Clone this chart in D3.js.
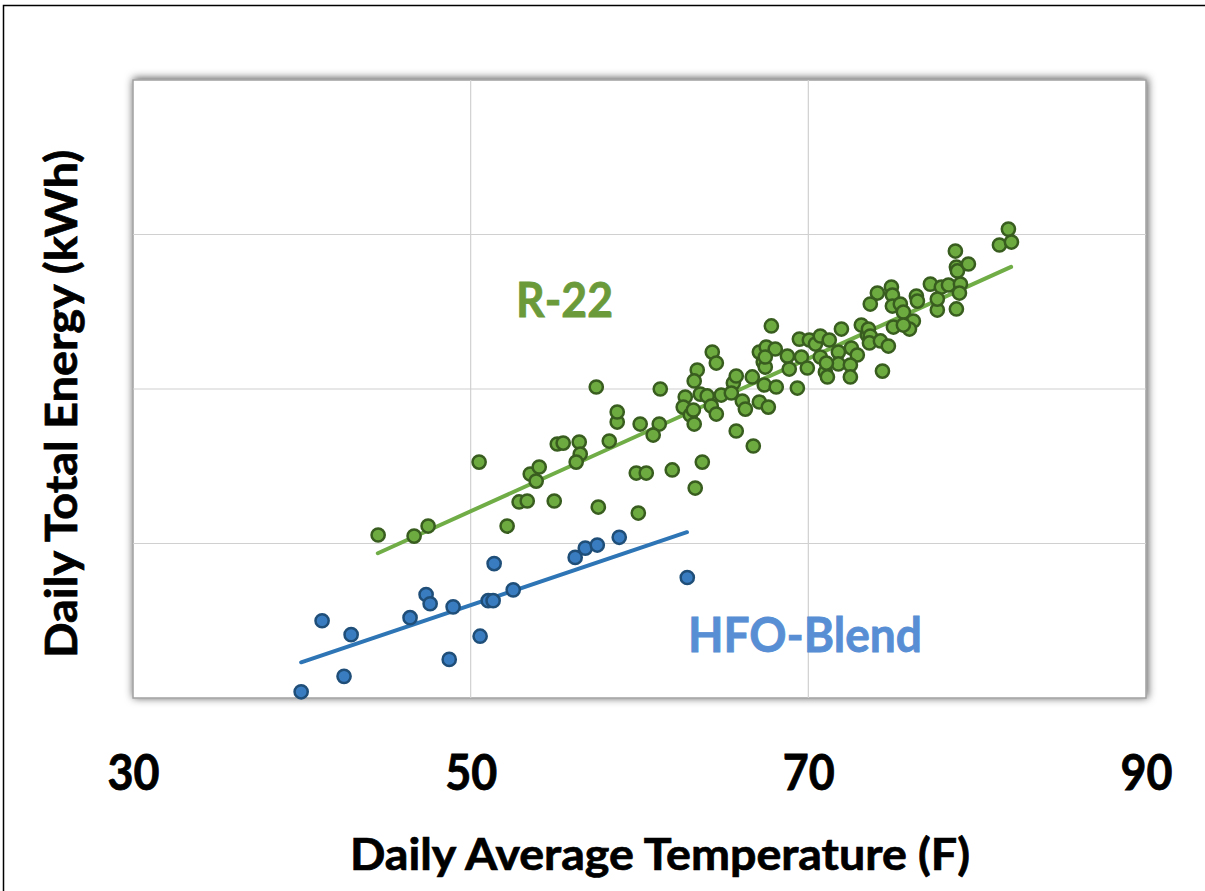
<!DOCTYPE html>
<html><head><meta charset="utf-8">
<script src="https://cdn.jsdelivr.net/npm/d3@7"></script>
<style>html,body{margin:0;padding:0;background:#fff;}svg{display:block;}</style>
</head><body>
<script>
// ---- data ----
const xTicks = [30, 50, 70, 90];
const yGrid = [1, 2, 3];
const hfoTemp = [39.96,41.20,42.50,42.92,46.41,47.36,47.60,48.73,48.96,50.56,51.04,51.33,51.39,52.52,56.19,56.79,57.50,58.80,62.83];
const hfoEnergy = [0.04,0.50,0.14,0.41,0.52,0.67,0.61,0.25,0.59,0.40,0.63,0.63,0.87,0.70,0.91,0.97,0.99,1.04,0.78];
const r22Temp = [44.52,46.65,47.48,50.50,52.16,52.87,53.35,53.53,54.06,53.88,54.95,55.13,55.48,56.43,56.49,56.25,57.56,58.21,58.68,58.68,
  59.93,59.81,60.40,60.04,61.17,60.81,61.94,63.72,63.30,57.44,61.23,63.42,63.24,64.31,64.55,62.71,62.59,63.60,64.01,63.01,
  63.24,64.25,64.55,64.84,65.56,65.73,65.44,65.73,66.09,66.27,66.68,66.74,67.10,67.63,67.10,67.51,68.04,67.33,67.45,67.39,
  68.10,67.81,68.76,68.87,69.47,69.59,69.94,69.35,70.06,70.42,70.71,70.71,71.01,71.13,71.24,71.78,71.78,71.96,72.55,72.90,
  72.49,72.49,73.14,73.50,73.56,73.67,73.62,74.09,73.67,74.27,74.74,74.39,74.92,74.98,74.98,75.04,75.45,75.63,76.22,75.99,
  75.63,76.40,76.46,77.23,77.88,78.30,79.01,78.95,78.77,77.64,77.64,78.71,78.77,78.83,79.48,81.85,81.32,82.03,63.19,71.07,67.45];
const r22Energy = [1.055,1.048,1.113,1.527,1.113,1.269,1.275,1.450,1.495,1.404,1.275,1.644,1.650,1.657,1.579,1.527,1.236,1.663,1.786,1.851,
  1.197,1.456,1.456,1.773,1.773,1.702,1.476,1.527,1.359,2.013,2.000,2.123,2.052,2.239,2.168,1.948,1.883,1.967,1.955,1.832,
  1.773,1.890,1.838,1.961,2.039,2.084,1.974,1.728,1.922,1.870,2.078,1.631,1.916,1.883,2.239,2.272,2.259,2.175,2.142,2.026,
  2.013,2.408,2.213,2.129,2.323,2.207,2.136,2.006,2.317,2.291,2.343,2.207,2.110,2.078,2.317,2.239,2.162,2.388,2.265,2.220,
  2.155,2.078,2.414,2.349,2.388,2.343,2.298,2.621,2.550,2.311,2.278,2.116,2.660,2.608,2.537,2.401,2.550,2.498,2.440,2.388,
  2.414,2.602,2.569,2.679,2.660,2.673,2.679,2.621,2.518,2.511,2.582,2.893,2.789,2.764,2.809,3.035,2.932,2.951,1.864,2.168,2.207];
const r22TrendTemp = [44.50, 82.01];
const r22TrendEnergy = [0.937, 2.790];
const hfoTrendTemp = [39.96, 62.81];
const hfoTrendEnergy = [0.231, 1.073];

// ---- drawing ----
const W = 1205, H = 891;
const svg = d3.select("body").append("svg").attr("width", W).attr("height", H);
const font = "Lato, 'Open Sans', sans-serif";

const x = d3.scaleLinear().domain([30, 90]).range([133, 1146]);
const y = d3.scaleLinear().domain([0, 4]).range([698, 80]);

// outer frame
svg.append("rect").attr("x", 3.5).attr("y", 5.5).attr("width", 1300).attr("height", 1000)
  .attr("fill", "#fff").attr("stroke", "#000").attr("stroke-width", 1.5);

const defs = svg.append("defs");
const f = defs.append("filter").attr("id", "sh").attr("x", "-5%").attr("y", "-5%").attr("width", "110%").attr("height", "110%");
f.append("feDropShadow").attr("dx", 1).attr("dy", -1).attr("stdDeviation", 4)
  .attr("flood-color", "#000").attr("flood-opacity", 0.7);

// plot area
svg.append("rect").attr("x", x(30)).attr("y", y(4)).attr("width", x(90) - x(30)).attr("height", y(0) - y(4))
  .attr("fill", "#fff").attr("stroke", "#a0a0a0").attr("stroke-width", 1.5).attr("filter", "url(#sh)");

// gridlines
svg.append("g").selectAll("line").data(xTicks.filter(d => d > 30 && d < 90)).join("line")
  .attr("x1", d => x(d)).attr("x2", d => x(d)).attr("y1", y(4)).attr("y2", y(0))
  .attr("stroke", "#d0d0d0").attr("stroke-width", 1.2);
svg.append("g").selectAll("line").data(yGrid).join("line")
  .attr("x1", x(30)).attr("x2", x(90)).attr("y1", d => y(d)).attr("y2", d => y(d))
  .attr("stroke", "#d0d0d0").attr("stroke-width", 1.2);

// x axis tick labels via d3 axis
const xAxis = d3.axisBottom(x).tickValues(xTicks).tickSize(0).tickPadding(0).tickFormat(d3.format("d"));
const gx = svg.append("g").attr("transform", "translate(0,755)").call(xAxis);
gx.select(".domain").remove();
gx.selectAll("text").attr("font-family", font).attr("font-weight", 700).attr("font-size", 49)
  .attr("fill", "#000").attr("stroke", "#000").attr("stroke-width", 0.8)
  .attr("dy", "0.71em").attr("textLength", 52).attr("lengthAdjust", "spacingAndGlyphs");

// trendlines
const line = d3.line().x(d => x(d[0])).y(d => y(d[1]));
svg.append("path").datum(d3.zip(r22TrendTemp, r22TrendEnergy)).attr("d", line)
  .attr("fill", "none").attr("stroke", "#70AD47").attr("stroke-width", 4).attr("stroke-linecap", "round");
svg.append("path").datum(d3.zip(hfoTrendTemp, hfoTrendEnergy)).attr("d", line)
  .attr("fill", "none").attr("stroke", "#2E75B6").attr("stroke-width", 4).attr("stroke-linecap", "round");

// points
svg.append("g").selectAll("circle").data(d3.zip(r22Temp, r22Energy)).join("circle")
  .attr("cx", d => x(d[0])).attr("cy", d => y(d[1])).attr("r", 6.6)
  .attr("fill", "#6DAA40").attr("stroke", "#385D1F").attr("stroke-width", 2.5);
svg.append("g").selectAll("circle").data(d3.zip(hfoTemp, hfoEnergy)).join("circle")
  .attr("cx", d => x(d[0])).attr("cy", d => y(d[1])).attr("r", 6.6)
  .attr("fill", "#3A7CC0").attr("stroke", "#1F4E79").attr("stroke-width", 2.5);

// series labels
svg.append("text").attr("x", 516).attr("y", 317).text("R-22")
  .attr("font-family", font).attr("font-weight", 700).attr("font-size", 47).attr("fill", "#6B9A3B")
  .attr("stroke", "#6B9A3B").attr("stroke-width", 0.8)
  .attr("textLength", 97).attr("lengthAdjust", "spacingAndGlyphs");
svg.append("text").attr("x", 688).attr("y", 652).text("HFO-Blend")
  .attr("font-family", font).attr("font-weight", 700).attr("font-size", 48).attr("fill", "#578ED4")
  .attr("stroke", "#578ED4").attr("stroke-width", 0.8)
  .attr("textLength", 234).attr("lengthAdjust", "spacingAndGlyphs");

// axis titles
svg.append("text").attr("x", 660).attr("y", 870).attr("text-anchor", "middle").text("Daily Average Temperature (F)")
  .attr("font-family", font).attr("font-weight", 700).attr("font-size", 44).attr("fill", "#000")
  .attr("stroke", "#000").attr("stroke-width", 0.7)
  .attr("textLength", 620).attr("lengthAdjust", "spacingAndGlyphs");
svg.append("text").attr("transform", "translate(77,404) rotate(-90)").attr("text-anchor", "middle")
  .text("Daily Total Energy (kWh)")
  .attr("font-family", font).attr("font-weight", 700).attr("font-size", 44).attr("fill", "#000")
  .attr("stroke", "#000").attr("stroke-width", 0.7)
  .attr("textLength", 508).attr("lengthAdjust", "spacingAndGlyphs");
</script>
</body></html>
